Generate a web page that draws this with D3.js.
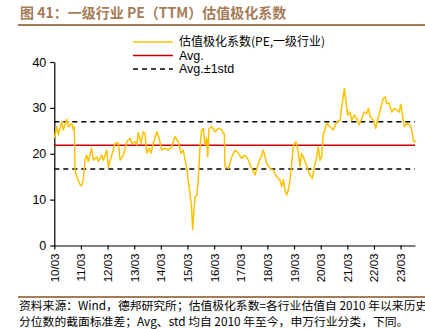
<!DOCTYPE html>
<html>
<head>
<meta charset="utf-8">
<script src="https://cdn.jsdelivr.net/npm/d3@7"></script>
<style>
  body { margin: 0; background: #fff; }
  svg { display: block; font-family: "Liberation Sans", Arial, sans-serif; }
</style>
</head>
<body>
<svg id="chart" width="425" height="329"></svg>
<script>
// series
var dates = ["2010-03-01","2010-04-03","2010-04-25","2010-06-10","2010-07-02","2010-08-18","2010-09-10","2010-10-26","2010-11-18","2010-12-01",
  "2010-12-10","2011-01-04","2011-02-18","2011-03-11","2011-04-02","2011-04-26","2011-05-19","2011-06-10","2011-07-26","2011-08-18",
  "2011-10-04","2011-10-26","2011-12-11","2012-01-03","2012-02-19","2012-03-10","2012-04-27","2012-06-11","2012-07-26","2012-08-19",
  "2012-10-03","2012-11-19","2013-01-03","2013-01-27","2013-03-11","2013-04-04","2013-04-26","2013-06-02","2013-07-03","2013-07-27",
  "2013-08-19","2013-09-20","2013-10-17","2013-11-18","2014-01-04","2014-02-05","2014-03-12","2014-04-26","2014-06-11","2014-07-27",
  "2014-08-18","2014-09-11","2014-10-26","2014-12-03","2015-01-03","2015-01-27","2015-02-20","2015-03-11","2015-04-04","2015-04-27",
  "2015-05-11","2015-06-12","2015-07-05","2015-07-27","2015-08-20","2015-09-12","2015-10-04","2015-10-27","2015-11-20","2015-12-04",
  "2015-12-21","2016-01-28","2016-03-13","2016-04-27","2016-05-20","2016-06-13","2016-07-04","2016-07-18","2016-07-28","2016-09-12",
  "2016-10-28","2016-12-12","2017-01-27","2017-03-13","2017-04-28","2017-06-12","2017-07-28","2017-09-13","2017-10-27","2017-12-13",
  "2018-01-04","2018-02-20","2018-04-05","2018-05-20","2018-07-06","2018-08-20","2018-09-13","2018-10-05","2018-10-28","2018-11-21",
  "2018-12-13","2019-01-05","2019-01-29","2019-02-20","2019-03-27","2019-04-28","2019-05-21","2019-06-14","2019-07-29","2019-09-13",
  "2019-10-06","2019-11-07","2019-12-04","2020-01-06","2020-01-28","2020-02-21","2020-03-14","2020-04-05","2020-05-22","2020-07-06",
  "2020-08-21","2020-10-07","2020-11-22","2020-12-15","2021-01-06","2021-01-20","2021-02-08","2021-03-06","2021-04-07","2021-04-30",
  "2021-06-05","2021-07-08","2021-08-09","2021-09-15","2021-10-20","2021-11-23","2021-12-15","2022-01-08","2022-02-22","2022-03-25",
  "2022-05-01","2022-06-06","2022-07-07","2022-07-31","2022-08-23","2022-09-24","2022-11-01","2022-12-06","2023-01-08","2023-02-09",
  "2023-03-06","2023-03-24","2023-04-21","2023-05-23","2023-07-08","2023-08-01","2023-08-23","2023-09-06","2023-09-29"];
var values = [23.4,25.9,24.1,27.0,25.2,27.5,25.9,26.6,25.2,25.9,
  16.4,15.0,13.2,13.0,14.3,18.6,19.7,18.3,21.2,18.6,
  19.3,18.3,19.7,18.6,20.8,17.0,19.7,22.3,22.4,18.6,
  19.7,22.6,23.4,22.3,22.6,21.9,24.6,22.3,24.8,24.4,
  20.1,21.2,20.1,22.3,24.8,23.4,20.8,21.2,20.8,21.5,
  22.6,23.7,22.6,20.1,20.8,18.6,16.8,14.3,11.4,8.1,
  3.5,10.6,10.8,14.3,21.5,25.2,25.5,21.9,23.4,19.3,
  25.5,25.9,24.8,25.5,25.5,25.2,24.4,24.4,17.2,16.8,
  19.3,20.8,20.1,19.0,19.7,18.6,16.8,15.4,17.9,19.7,
  20.8,17.9,16.8,16.4,15.0,14.3,12.8,14.3,12.1,11.0,
  12.1,14.3,17.9,21.9,22.6,20.4,17.2,20.1,18.4,16.3,
  15.4,14.6,17.2,19.3,21.5,18.6,19.3,24.1,26.6,25.9,
  25.2,27.0,27.3,30.2,32.8,34.2,31.7,28.4,29.1,27.3,
  28.4,27.7,26.3,27.7,29.1,28.8,29.9,28.1,27.3,25.5,
  28.1,30.2,32.1,32.4,31.0,31.0,29.1,29.9,29.5,29.1,
  30.8,28.8,25.9,26.6,26.3,25.2,23.0,22.6,22.8];
var avg = 21.85, std = 5.15;
var yTicks = [0, 10, 20, 30, 40];
var xTickYears = d3.range(2010, 2024);

var seriesName = "估值极化系数(PE,一级行业)";
var title = "图 41：一级行业 PE（TTM）估值极化系数";
var notes = ["资料来源：Wind，德邦研究所；估值极化系数=各行业估值自 2010 年以来历史",
             "分位数的截面标准差；Avg、std 均自 2010 年至今，申万行业分类，下同。"];

var parse = d3.timeParse("%Y-%m-%d");
var data = dates.map(function (d, i) { return { date: parse(d), v: values[i] }; });

var svg = d3.select("#chart");
var brown = "#A57C58";
var cjk = "'Noto Sans CJK SC', sans-serif";

// title + rules
svg.append("text").attr("x", 20).attr("y", 17.5)
  .attr("fill", brown).attr("font-size", 14).attr("font-weight", "bold")
  .attr("font-family", cjk).text(title);
svg.append("line").attr("x1", 18).attr("x2", 425).attr("y1", 25).attr("y2", 25)
  .attr("stroke", brown).attr("stroke-width", 2);
svg.append("line").attr("x1", 18).attr("x2", 425).attr("y1", 297).attr("y2", 297)
  .attr("stroke", brown).attr("stroke-width", 2);
svg.selectAll(".note").data(notes).enter().append("text")
  .attr("x", 19).attr("y", function (d, i) { return 309.5 + i * 16.5; })
  .attr("font-size", 11.8).attr("fill", "#000")
  .attr("font-family", cjk).text(function (d) { return d; });

var x = d3.scaleTime().domain([parse("2010-03-01"), parse("2023-09-15")]).range([54.3, 415]);
var y = d3.scaleLinear().domain([0, 40]).range([245.5, 62]);

// axes
var xAxis = svg.append("g").attr("transform", "translate(0," + y(0) + ")")
  .call(d3.axisBottom(x).tickValues(xTickYears.map(function (yr) { return new Date(yr, 2, 1); }))
    .tickFormat(d3.timeFormat("%y/%m")).tickSize(4).tickSizeOuter(0));
xAxis.selectAll("text").attr("transform", "rotate(-90)").attr("text-anchor", "end")
  .attr("x", -8).attr("y", 0).attr("dy", "0.35em").attr("font-size", 11.5).attr("fill", "#000");

var yAxis = svg.append("g").attr("transform", "translate(54.3,0)")
  .call(d3.axisLeft(y).tickValues(yTicks).tickSize(4).tickSizeOuter(0));
yAxis.selectAll("text").attr("font-size", 12.5).attr("fill", "#000").attr("x", -8);
svg.selectAll(".domain, .tick line").attr("stroke", "#000").attr("stroke-width", 1.2);

// reference lines
[[avg, "#C00000", null], [avg + std, "#000", "5,4"], [avg - std, "#000", "5,4"]].forEach(function (r) {
  svg.append("line").attr("x1", x.range()[0]).attr("x2", x.range()[1])
    .attr("y1", y(r[0])).attr("y2", y(r[0]))
    .attr("stroke", r[1]).attr("stroke-width", 1.5).attr("stroke-dasharray", r[2]);
});

// series
svg.append("path").datum(data)
  .attr("fill", "none").attr("stroke", "#FFC000").attr("stroke-width", 1.5)
  .attr("stroke-linejoin", "round")
  .attr("d", d3.line().x(function (d) { return x(d.date); }).y(function (d) { return y(d.v); }));

// legend
var legend = [
  { label: seriesName, color: "#FFC000", dash: null, size: 12, font: cjk },
  { label: "Avg.", color: "#C00000", dash: null, size: 12.5, font: null },
  { label: "Avg.±1std", color: "#000", dash: "5,4", size: 12.5, font: null }
];
var lg = svg.selectAll(".lg").data(legend).enter().append("g")
  .attr("transform", function (d, i) { return "translate(133," + (42 + i * 13.5) + ")"; });
lg.append("line").attr("x1", 0).attr("x2", 40)
  .attr("stroke", function (d) { return d.color; }).attr("stroke-width", 1.5)
  .attr("stroke-dasharray", function (d) { return d.dash; });
lg.append("text").attr("x", 46).attr("dy", "0.35em")
  .attr("font-size", function (d) { return d.size; })
  .attr("font-family", function (d) { return d.font; })
  .text(function (d) { return d.label; });
</script>
</body>
</html>
